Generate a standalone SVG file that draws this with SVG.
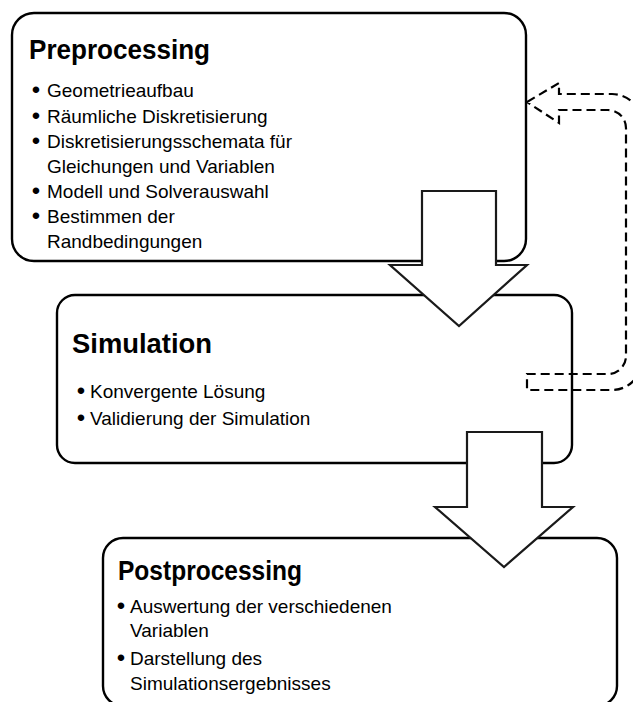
<svg xmlns="http://www.w3.org/2000/svg" width="633" height="702" viewBox="0 0 633 702">
<style>
.box{fill:#fff;stroke:#000;stroke-width:2.4}
.arrow{fill:#fff;stroke:#1a1a1a;stroke-width:2.2;stroke-linejoin:miter}
.dash{fill:none;stroke:#000;stroke-width:2.2;stroke-dasharray:9,5}
.title{font-family:"Liberation Sans",Arial,sans-serif;font-weight:bold;font-size:28px;fill:#000}
.item{font-family:"Liberation Sans",Arial,sans-serif;font-size:19px;fill:#000}
.bul{font-family:"Liberation Sans",Arial,sans-serif;font-size:24px;fill:#000;text-anchor:middle}
</style>
<rect width="633" height="702" fill="#fff"/>
<g id="preprocessing">
<rect class="box" x="12" y="13" width="514" height="248" rx="22" ry="22"/>
<text class="title" x="29" y="59" textLength="181" lengthAdjust="spacingAndGlyphs">Preprocessing</text>
<text class="bul" x="36" y="98">•</text><text class="item" x="47" y="97">Geometrieaufbau</text>
<text class="bul" x="36" y="124">•</text><text class="item" x="47" y="123">Räumliche Diskretisierung</text>
<text class="bul" x="36" y="149">•</text><text class="item" x="47" y="148">Diskretisierungsschemata für</text>
<text class="item" x="47" y="173">Gleichungen und Variablen</text>
<text class="bul" x="36" y="199">•</text><text class="item" x="47" y="198">Modell und Solverauswahl</text>
<text class="bul" x="36" y="224">•</text><text class="item" x="47" y="223">Bestimmen der</text>
<text class="item" x="47" y="248">Randbedingungen</text>
</g>
<g id="simulation">
<rect class="box" x="57" y="295" width="515" height="168" rx="18" ry="18"/>
<text class="title" x="72" y="353" textLength="140" lengthAdjust="spacingAndGlyphs">Simulation</text>
<text class="bul" x="81" y="399">•</text><text class="item" x="90" y="398">Konvergente Lösung</text>
<text class="bul" x="81" y="426">•</text><text class="item" x="90" y="425">Validierung der Simulation</text>
</g>
<g id="connectors">
<path id="arrow-pre-sim" class="arrow" d="M422,191 L496,191 L496,265 L527,265 L459,326 L390,265 L422,265 Z"/>
<path id="feedback" class="dash" d="M527,102 L559,83 L559,94 L612,94 A30,30 0 0 1 642,124 L642,360 A30,30 0 0 1 612,390 L527,390 L527,374 L608,374 A18,18 0 0 0 626,356 L626,128 A18,18 0 0 0 608,110 L559,110 L559,123 Z"/>
</g>
<g id="postprocessing">
<rect class="box" x="103" y="538" width="514" height="168" rx="20" ry="20"/>
<text class="title" x="118" y="580" textLength="184" lengthAdjust="spacingAndGlyphs">Postprocessing</text>
<text class="bul" x="121" y="614">•</text><text class="item" x="130" y="613">Auswertung der verschiedenen</text>
<text class="item" x="130" y="637">Variablen</text>
<text class="bul" x="121" y="666">•</text><text class="item" x="130" y="665">Darstellung des</text>
<text class="item" x="130" y="690">Simulationsergebnisses</text>
</g>
<g id="connectors-2">
<path id="arrow-sim-post" class="arrow" d="M467,432 L542,432 L542,507 L573,507 L504,567 L435,507 L467,507 Z"/>
</g>
</svg>
